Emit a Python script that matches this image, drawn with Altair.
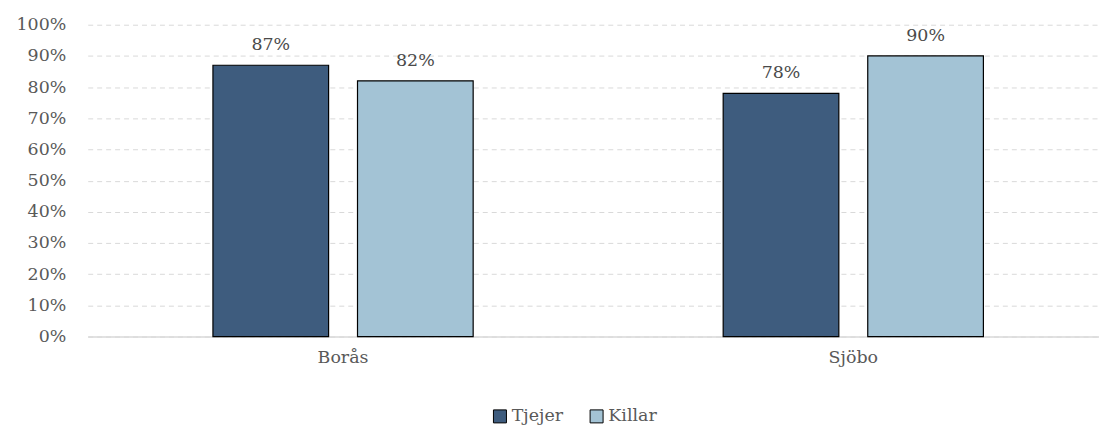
import altair as alt
import pandas as pd

cities = ["Borås", "Borås", "Sjöbo", "Sjöbo"]
groups = ["Tjejer", "Killar", "Tjejer", "Killar"]
values = [0.87, 0.82, 0.78, 0.90]
group_order = ["Tjejer", "Killar"]
group_colors = ["#3e5c7e", "#a3c3d5"]
y_ticks = [0, 0.1, 0.2, 0.3, 0.4, 0.5, 0.6, 0.7, 0.8, 0.9, 1.0]

df = pd.DataFrame({"city": cities, "group": groups, "value": values})

FONT = "DejaVu Serif"
FS = 17.5

base = alt.Chart(df).encode(
    x=alt.X("city:N", sort=["Borås", "Sjöbo"],
            scale=alt.Scale(paddingInner=0.49, paddingOuter=0.236, align=0.52),
            axis=alt.Axis(title=None, labelAngle=0, ticks=False, domain=True,
                          domainColor="#d9d9d9", domainWidth=1.5,
                          labelFont=FONT, labelFontSize=FS, labelColor="#595959",
                          labelPadding=12)),
    xOffset=alt.XOffset("group:N", sort=group_order,
                        scale=alt.Scale(paddingInner=0.2, paddingOuter=0)),
    y=alt.Y("value:Q", scale=alt.Scale(domain=[0, 1]),
            axis=alt.Axis(title=None, values=y_ticks, format=".0%", domain=False,
                          ticks=False, grid=True, gridDash=[5, 4], gridColor="#d9d9d9",
                          gridWidth=1, labelFont=FONT, labelFontSize=FS,
                          labelColor="#595959", labelPadding=22,
                          labelOverlap=False)),
)

bars = base.mark_bar(stroke="black", strokeWidth=1.2).encode(
    color=alt.Color("group:N", sort=group_order,
                    scale=alt.Scale(domain=group_order, range=group_colors),
                    legend=alt.Legend(title=None, orient="none", direction="horizontal",
                                      legendX=405, legendY=384, symbolType="square",
                                      symbolSize=170, symbolStrokeColor="black",
                                      symbolStrokeWidth=1, symbolOpacity=1,
                                      labelFont=FONT, labelFontSize=FS,
                                      labelColor="#595959", labelOffset=3,
                                      columnPadding=24)),
)

labels = base.mark_text(baseline="alphabetic", dy=-15, font=FONT, fontSize=FS,
                        color="#4a4a4a").encode(
    text=alt.Text("value:Q", format=".0%"),
)

chart = alt.layer(bars, labels).properties(
    width=1015, height=313,
    autosize=alt.AutoSizeParams(type="none"),
    padding={"left": 80, "top": 16, "right": 0, "bottom": 90},
).configure_view(stroke=None)

chart.save("out.html", embed_options={"renderer": "svg", "actions": False})
